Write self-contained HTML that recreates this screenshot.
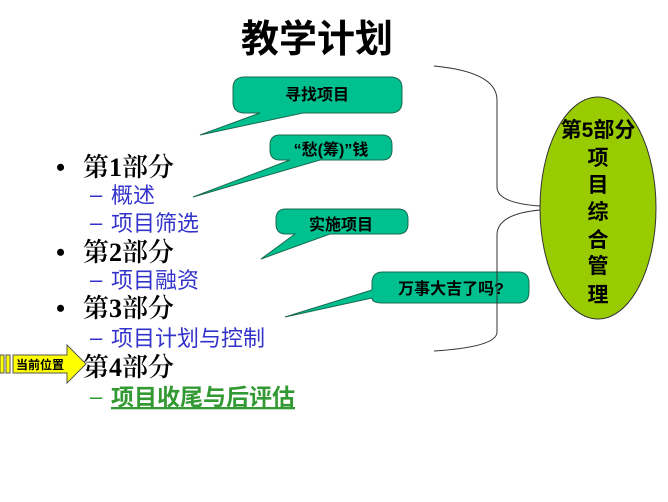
<!DOCTYPE html>
<html><head><meta charset="utf-8"><style>
html,body{margin:0;padding:0;background:#fff;}
svg{display:block;}
.cj{font-family:"Liberation Sans","Noto Sans CJK SC",sans-serif;font-weight:bold;}
.sf{font-family:"Liberation Serif","Noto Serif CJK SC",serif;}
</style></head><body>
<svg width="668" height="502" viewBox="0 0 668 502" xmlns="http://www.w3.org/2000/svg">
<text x="317" y="52" text-anchor="middle" class="cj" font-size="38">教学计划</text>

<g fill="#00c08f" stroke="#1a6a50" stroke-width="1">
<path d="M245,77 H390 Q402,77 402,88 V102 Q402,113 390,113 H303 L200,135 L260,113 H245 Q233,113 233,102 V88 Q233,77 245,77 Z"/>
<path d="M280,135 H382 Q392,135 392,145 V150 Q392,160 382,160 H320 L193,197 L290,160 H280 Q270,160 270,150 V145 Q270,135 280,135 Z"/>
<path d="M286,209 H398 Q408,209 408,219 V224 Q408,234 398,234 H330 L261,259 L295,234 H286 Q276,234 276,224 V219 Q276,209 286,209 Z"/>
<path d="M383,272 H518 Q529,272 529,283 V292 Q529,303 518,303 H383 Q372,303 372,298 L285,317 L372,290 V283 Q372,272 383,272 Z"/>
</g>
<text x="317" y="100" text-anchor="middle" class="cj" font-size="16">寻找项目</text>
<text x="331" y="155" text-anchor="middle" class="cj" font-size="16">“愁(筹)”钱</text>
<text x="341" y="230" text-anchor="middle" class="cj" font-size="16">实施项目</text>
<text x="451" y="294" text-anchor="middle" class="cj" font-size="16">万事大吉了吗?</text>

<path d="M434,66 Q497,72 497,100 V187 Q497,203 540,206" fill="none" stroke="#333" stroke-width="1"/>
<path d="M540,210 Q497,214 497,235 V332 Q497,347 434,351" fill="none" stroke="#333" stroke-width="1"/>

<ellipse cx="598" cy="208" rx="58" ry="111" fill="#99cc00" stroke="#333" stroke-width="1"/>
<g class="cj" font-size="21" text-anchor="middle">
<text x="598" y="137">第5部分</text>
<text x="598" y="165">项</text>
<text x="598" y="192">目</text>
<text x="598" y="219">综</text>
<text x="598" y="247">合</text>
<text x="598" y="273">管</text>
<text x="598" y="302">理</text>
</g>

<g class="sf" font-size="26" fill="#000" font-weight="600">
<text x="56" y="176">•</text><text x="83" y="176">第<tspan font-weight="bold">1</tspan>部分</text>
<text x="56" y="261">•</text><text x="83" y="261">第<tspan font-weight="bold">2</tspan>部分</text>
<text x="56" y="317">•</text><text x="83" y="317">第<tspan font-weight="bold">3</tspan>部分</text>
<text x="83" y="376">第<tspan font-weight="bold">4</tspan>部分</text>
</g>
<g font-family="Liberation Sans,'Noto Sans CJK SC',sans-serif" font-size="22" fill="#3333cc">
<text x="90" y="202">–</text><text x="111" y="203">概述</text>
<text x="90" y="230">–</text><text x="111" y="231">项目筛选</text>
<text x="90" y="287">–</text><text x="111" y="288">项目融资</text>
<text x="90" y="345">–</text><text x="111" y="346">项目计划与控制</text>
<text x="90" y="404" fill="#339933">–</text><text x="111" y="405" fill="#339933" font-weight="bold" font-size="23" text-decoration="underline">项目收尾与后评估</text>
</g>

<g fill="#ffff00" stroke="#555" stroke-width="1">
<rect x="0" y="355" width="4" height="18"/>
<rect x="6" y="355" width="4" height="18"/>
<path d="M13,355 H67 V345 L86,364 L67,383 V373 H13 Z"/>
</g>
<text x="40" y="369" text-anchor="middle" class="cj" font-size="12">当前位置</text>
</svg>
</body></html>
